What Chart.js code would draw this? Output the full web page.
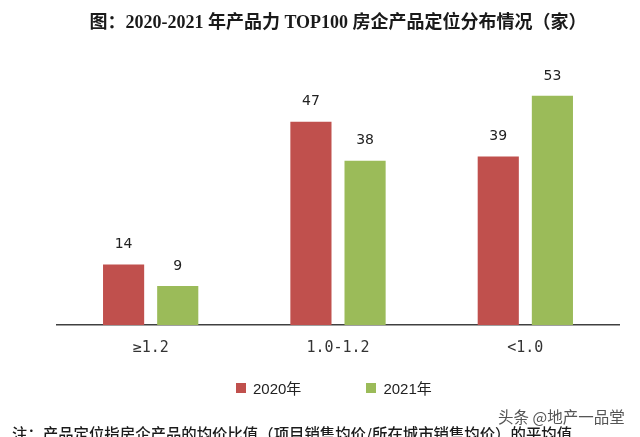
<!DOCTYPE html>
<html>
<head>
<meta charset="utf-8">
<script src="https://cdn.jsdelivr.net/npm/chart.js@4"></script>
<style>
  html, body { margin: 0; padding: 0; background: #fff; }
  #wrap { position: relative; width: 640px; height: 437px; overflow: hidden; background: #fff; }
  #c { position: absolute; left: 0; top: 0; }
  .legend { position: absolute; top: 377px; left: 236px; display: flex; align-items: center;
            font-family: 'Liberation Sans', 'Noto Sans CJK SC', sans-serif; font-size: 15px; color: #222; }
  .legend .item { display: flex; align-items: center; }
  .legend .box { width: 10px; height: 10px; margin-right: 7px; }
  .note { position: absolute; left: 12px; top: 425px; font-family: 'Noto Sans CJK SC', sans-serif;
          font-size: 15.4px; line-height: 16px; color: #1a1a1a; font-weight: 500; white-space: nowrap; }
  .wm { position: absolute; left: 498px; top: 406px; font-family: 'Noto Sans CJK SC', sans-serif;
        font-size: 15.5px; line-height: 20px; color: #555; white-space: nowrap; }
</style>
</head>
<body>
<div id="wrap">
  <canvas id="c" width="640" height="437"></canvas>
  <div class="legend" id="legend"></div>
  <div class="wm">头条 @地产一品堂</div>
  <div class="note">注：产品定位指房企产品的均价比值（项目销售均价/所在城市销售均价）的平均值</div>
</div>
<script>
const titleText = '图：2020-2021 年产品力 TOP100 房企产品定位分布情况（家）';
const categories = ['≥1.2', '1.0-1.2', '<1.0'];
const seriesNames = ['2020年', '2021年'];
const values2020 = [14, 47, 39];
const values2021 = [9, 38, 53];
const seriesColors = ['#C0504D', '#9BBB59'];

const valueLabels = {
  id: 'valueLabels',
  afterDatasetsDraw(chart) {
    const ctx = chart.ctx;
    ctx.save();
    ctx.font = '14px "DejaVu Sans", sans-serif';
    ctx.fillStyle = '#222';
    ctx.textAlign = 'center';
    ctx.textBaseline = 'middle';
    chart.data.datasets.forEach((ds, di) => {
      const meta = chart.getDatasetMeta(di);
      meta.data.forEach((el, i) => {
        ctx.fillText(String(ds.data[i]), el.x, el.y - 20);
      });
    });
    ctx.restore();
  }
};

const chart = new Chart(document.getElementById('c'), {
  type: 'bar',
  data: {
    labels: categories,
    datasets: [
      { label: seriesNames[0], data: values2020, backgroundColor: seriesColors[0] },
      { label: seriesNames[1], data: values2021, backgroundColor: seriesColors[1] }
    ]
  },
  options: {
    responsive: false,
    animation: false,
    layout: { padding: { left: 57, right: 21, top: 0, bottom: 74 } },
    categoryPercentage: 0.578,
    barPercentage: 0.76,
    plugins: {
      title: {
        display: true,
        text: titleText,
        color: '#1a1a1a',
        font: { family: "'Liberation Serif', 'Noto Sans CJK SC', serif", size: 18, weight: 'bold' },
        padding: { top: 13, bottom: 31 }
      },
      legend: { display: false },
      tooltip: { enabled: false }
    },
    scales: {
      x: {
        grid: { display: false },
        border: { display: true, color: '#404040', width: 1.5 },
        ticks: { color: '#333', font: { family: "'DejaVu Sans Mono', monospace", size: 15 }, padding: 6 }
      },
      y: {
        display: false,
        min: 0,
        max: 60
      }
    }
  },
  plugins: [valueLabels]
});

// HTML legend built from the chart's datasets
const lg = document.getElementById('legend');
chart.data.datasets.forEach((ds, i) => {
  const item = document.createElement('div');
  item.className = 'item';
  if (i > 0) item.style.marginLeft = '65px';
  const b = document.createElement('span');
  b.className = 'box';
  b.style.background = ds.backgroundColor;
  const t = document.createElement('span');
  t.textContent = ds.label;
  item.appendChild(b); item.appendChild(t);
  lg.appendChild(item);
});
</script>
</body>
</html>
